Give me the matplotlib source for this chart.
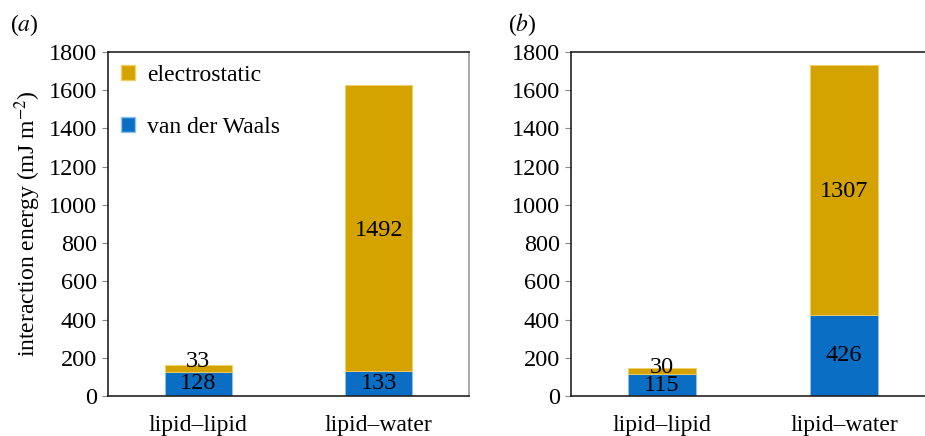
import matplotlib.pyplot as plt
from matplotlib.patches import Patch

plt.rcParams['font.family'] = ['Liberation Serif', 'DejaVu Serif']
plt.rcParams['mathtext.fontset'] = 'stix'

categories = ["lipid\u2013lipid", "lipid\u2013water"]
vdw_a = [128, 133]
elec_a = [33, 1492]
vdw_b = [115, 426]
elec_b = [30, 1307]
yticks = [0, 200, 400, 600, 800, 1000, 1200, 1400, 1600, 1800]

gold = "#d4a300"
blue = "#0a6ec4"

fig = plt.figure(figsize=(9.25, 4.36), dpi=100)
W, H = 925.0, 436.0
ax_a = fig.add_axes([108 / W, 1 - 396 / H, 361 / W, 344 / H])
ax_b = fig.add_axes([571 / W, 1 - 396 / H, 364 / W, 344 / H])


def draw(ax, vdw, elec, small_offset):
    x = range(len(categories))
    ax.bar(x, vdw, width=0.37, color=blue, edgecolor="#8ec3ee", linewidth=0.6)
    ax.bar(x, elec, width=0.37, bottom=vdw, color=gold, edgecolor="#f0d060", linewidth=0.6)
    for i in x:
        ax.text(i, vdw[i] / 2, str(vdw[i]), ha="center", va="center", fontsize=17.5)
        if elec[i] < 100:
            ypos = vdw[i] + elec[i] + small_offset
        else:
            ypos = vdw[i] + elec[i] / 2 - 12
        ax.text(i, ypos, str(elec[i]), ha="center", va="center", fontsize=17.5)
    ax.set_xlim(-0.5, 1.5)
    ax.set_ylim(0, 1800)
    ax.set_yticks(yticks)
    ax.set_xticks(list(x))
    ax.set_xticklabels(categories, fontsize=17)
    ax.tick_params(axis="x", length=0, pad=14)
    ax.tick_params(axis="y", labelsize=17.5, length=4, direction="out", color="#888888", pad=4)
    for s in ax.spines.values():
        s.set_linewidth(1.2)
        s.set_color("#222222")


draw(ax_a, vdw_a, elec_a, 17)
draw(ax_b, vdw_b, elec_b, 5)
ax_a.spines["right"].set_color("#999999")

ax_a.set_ylabel("interaction energy (mJ m$^{-2}$)", fontsize=17, labelpad=4)

handles = [Patch(facecolor=gold, edgecolor="#f0d060", label="electrostatic"),
           Patch(facecolor=blue, edgecolor="#8ec3ee", label="van der Waals")]
ax_a.legend(handles=handles, loc="upper left", frameon=False, fontsize=17,
            handlelength=0.6, handleheight=0.6, handletextpad=0.5,
            labelspacing=1.3, borderaxespad=0.0, bbox_to_anchor=(0.01, 0.99))

fig.text(10 / W, 1 - 25 / H, "($a$)", fontsize=17, va="center", ha="left")
fig.text(508 / W, 1 - 25 / H, "($b$)", fontsize=17, va="center", ha="left")

fig.savefig("out.png", dpi=100)
plt.close(fig)
